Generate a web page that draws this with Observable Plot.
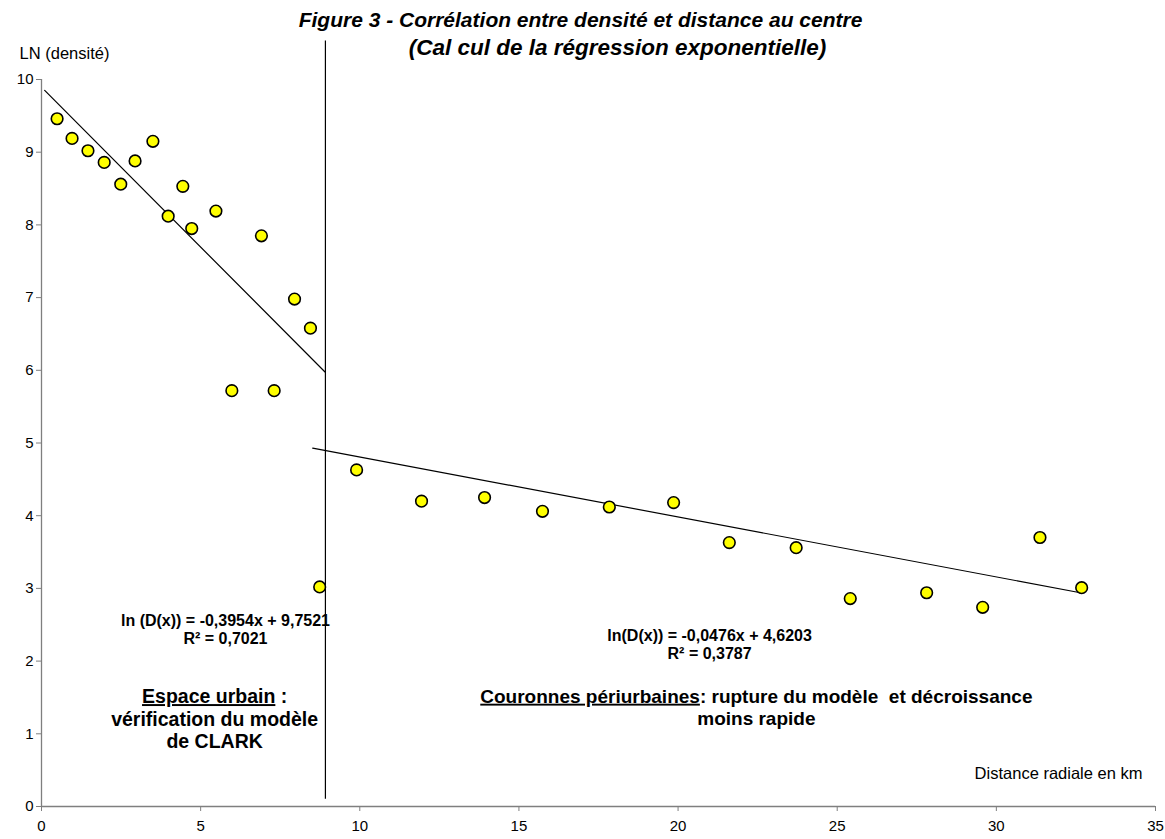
<!DOCTYPE html>
<html>
<head>
<meta charset="utf-8">
<script src="https://cdn.jsdelivr.net/npm/d3@7"></script>
<script src="https://cdn.jsdelivr.net/npm/@observablehq/plot@0.6"></script>
<style>
  html, body { margin: 0; padding: 0; background: #ffffff; }
  #chart { width: 1165px; height: 839px; }
  #chart svg text { white-space: pre; }
  #chart svg tspan.u { text-decoration: underline; text-decoration-thickness: 2px; }
</style>
</head>
<body>
<div id="chart"></div>
<script>
// ---- data ----
const xTicks = [0, 5, 10, 15, 20, 25, 30, 35];
const yTicks = [0, 1, 2, 3, 4, 5, 6, 7, 8, 9, 10];

const distanceKm = [0.49, 0.96, 1.46, 1.97, 2.49, 2.94, 3.50, 3.98, 4.44, 4.72,
                    5.48, 5.98, 6.91, 7.31, 7.95, 8.45, 8.74, 9.90, 11.94, 13.92,
                    15.74, 17.84, 19.86, 21.61, 23.71, 25.41, 27.81, 29.57, 31.37, 32.68];
const lnDensity  = [9.46, 9.19, 9.02, 8.86, 8.56, 8.88, 9.15, 8.12, 8.53, 7.95,
                    8.19, 5.72, 7.85, 5.72, 6.98, 6.58, 3.02, 4.63, 4.20, 4.25,
                    4.06, 4.12, 4.18, 3.63, 3.56, 2.86, 2.94, 2.74, 3.70, 3.01];

// regression lines as drawn (end points)
const urbanFitX = [0.1, 8.9];
const urbanFitY = [9.85, 5.98];
const periFitX = [8.52, 32.64];
const periFitY = [4.93, 2.94];

// limit between urban space and periurban rings
const limitX = [8.92];
const limitY = [0.1, 10.53];

// texts
const titleLines = ["Figure 3 - Corrélation entre densité et distance au centre",
                    "(Cal cul de la régression exponentielle)"];
const yAxisTitle = "LN (densité)";
const xAxisTitle = "Distance radiale en km";
const eqUrban = ["ln (D(x)) = -0,3954x + 9,7521", "R² = 0,7021"];
const eqPeri = ["ln(D(x)) = -0,0476x + 4,6203", "R² = 0,3787"];
const noteUrban = ["Espace urbain :", "vérification du modèle", "de CLARK"];
const notePeri = ["Couronnes périurbaines: rupture du modèle  et décroissance", "moins rapide"];
const underlined = ["Espace urbain", "Couronnes périurbaines"];

// ---- build tables ----
const points = distanceKm.map((x, i) => ({x, y: lnDensity[i]}));
const urbanFit = urbanFitX.map((x, i) => ({x, y: urbanFitY[i]}));
const periFit = periFitX.map((x, i) => ({x, y: periFitY[i]}));

const font = "Arial, 'Liberation Sans', sans-serif";
const axisGray = "#7f7f7f";

const chart = Plot.plot({
  width: 1165,
  height: 839,
  marginLeft: 41,
  marginRight: 10,
  marginTop: 79,
  marginBottom: 33,
  style: {fontFamily: font, fontSize: "15px", color: "#000", background: "#fff", overflow: "visible"},
  x: {domain: [0, 35], label: null},
  y: {domain: [0, 10], label: null},
  marks: [
    Plot.ruleX([0], {stroke: axisGray, strokeWidth: 1.3}),
    Plot.ruleY([0], {stroke: axisGray, strokeWidth: 1.3}),
    Plot.axisX({ticks: xTicks, tickSize: 5, tickPadding: 9, stroke: axisGray, fill: "#000",
                fontSize: 15, label: null, tickFormat: d => String(d)}),
    Plot.axisY({ticks: yTicks, tickSize: 5, tickPadding: 3, stroke: axisGray, fill: "#000",
                fontSize: 15, label: null, tickFormat: d => String(d)}),
    Plot.ruleX(limitX, {y1: limitY[0], y2: limitY[1], stroke: "#000", strokeWidth: 1.2}),
    Plot.line(urbanFit, {x: "x", y: "y", stroke: "#000", strokeWidth: 1.2}),
    Plot.line(periFit, {x: "x", y: "y", stroke: "#000", strokeWidth: 1.2}),
    Plot.dot(points, {x: "x", y: "y", r: 5.8, fill: "#ffff00", stroke: "#000", strokeWidth: 1.6}),
    // titles
    Plot.text([titleLines[0]], {frameAnchor: "top", dx: -18, dy: -53, lineAnchor: "bottom",
      fontSize: 21, fontWeight: "bold", fontStyle: "italic", fill: "#000"}),
    Plot.text([titleLines[1]], {frameAnchor: "top", dx: 19, dy: -25, lineAnchor: "bottom",
      fontSize: 22.5, fontWeight: "bold", fontStyle: "italic", fill: "#000"}),
    // axis titles
    Plot.text([yAxisTitle], {x: -0.69, y: 10.354, textAnchor: "start", lineAnchor: "middle",
      fontSize: 16.5, fill: "#000"}),
    Plot.text([xAxisTitle], {x: 34.59, y: 0.45, textAnchor: "end", lineAnchor: "middle",
      fontSize: 16.5, fill: "#000"}),
    // regression equations
    Plot.text([eqUrban.join("\n")], {x: 5.78, y: 2.44, textAnchor: "middle", lineAnchor: "middle",
      fontSize: 16, fontWeight: "bold", lineHeight: 1.1, fill: "#000"}),
    Plot.text([eqPeri.join("\n")], {x: 20.99, y: 2.23, textAnchor: "middle", lineAnchor: "middle",
      fontSize: 16, fontWeight: "bold", lineHeight: 1.1, fill: "#000"}),
    // zone notes
    Plot.text([noteUrban.join("\n")], {x: 5.44, y: 1.213, textAnchor: "middle", lineAnchor: "middle",
      fontSize: 19.5, fontWeight: "bold", lineHeight: 1.15, fill: "#000"}),
    Plot.text([notePeri.join("\n")], {x: 22.46, y: 1.374, textAnchor: "middle", lineAnchor: "middle",
      fontSize: 19, fontWeight: "bold", lineHeight: 1.15, fill: "#000"})
  ]
});

// underline the zone names
const SVGNS = "http://www.w3.org/2000/svg";
chart.querySelectorAll("tspan, text").forEach(el => {
  if (el.children.length) return;
  const txt = el.textContent;
  for (const u of underlined) {
    if (txt.startsWith(u)) {
      el.textContent = "";
      const span = document.createElementNS(SVGNS, "tspan");
      span.setAttribute("class", "u");
      span.setAttribute("text-decoration", "underline");
      span.textContent = u;
      el.appendChild(span);
      el.appendChild(document.createTextNode(txt.slice(u.length)));
      break;
    }
  }
});

document.getElementById("chart").appendChild(chart);
</script>
</body>
</html>
